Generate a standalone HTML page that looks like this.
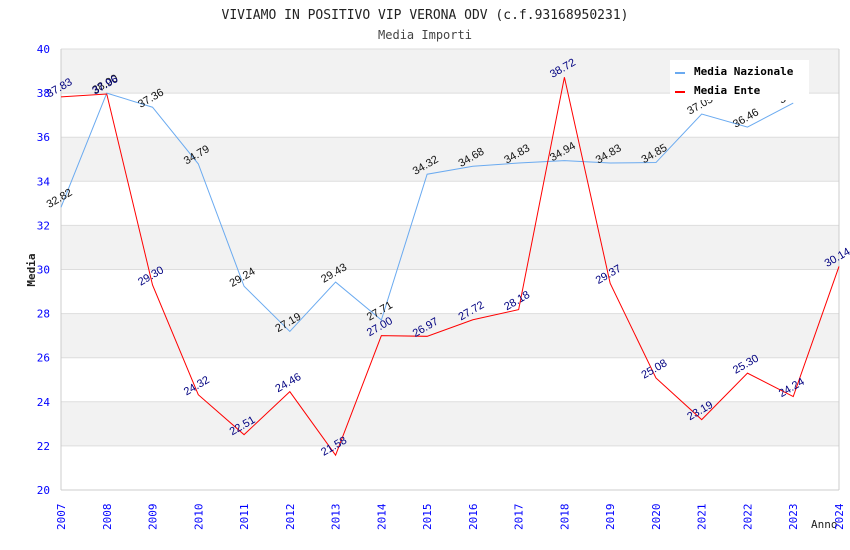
<!DOCTYPE html>
<html><head><meta charset="utf-8"><style>
body{margin:0;background:#fff;}
svg{display:block;font-family:"DejaVu Sans Mono","Liberation Mono",monospace;}
</style></head><body>
<svg id="c" width="850" height="550">
<text x="425" y="19" text-anchor="middle" font-size="13" fill="#222">VIVIAMO IN POSITIVO VIP VERONA ODV (c.f.93168950231)</text>
<text x="425" y="39" text-anchor="middle" font-size="12" fill="#444">Media Importi</text>
<text transform="translate(35,270) rotate(-90)" text-anchor="middle" font-size="11" font-weight="bold" fill="#222">Media</text>
<text x="811" y="528" font-size="11" fill="#222">Anno</text>
<g id="g"></g>
</svg>
<script>
const years=[2007,2008,2009,2010,2011,2012,2013,2014,2015,2016,2017,2018,2019,2020,2021,2022,2023,2024];
const naz=[32.82,38.00,37.36,34.79,29.24,27.19,29.43,27.71,34.32,34.68,34.83,34.94,34.83,34.85,37.05,36.46,37.55,null];
const ente=[37.83,37.96,29.30,24.32,22.51,24.46,21.58,27.00,26.97,27.72,28.18,38.72,29.37,25.08,23.19,25.30,24.24,30.14];
const yTicks=[20,22,24,26,28,30,32,34,36,38,40];
const NS="http://www.w3.org/2000/svg";
const g=document.getElementById('g');
const X0=61,X1=839,Y0=490,Y1=49;
const x=i=>X0+(X1-X0)*i/(years.length-1);
const y=v=>Y0-(v-20)/20*(Y0-Y1);
function mk(t,a){const e=document.createElementNS(NS,t);for(const k in a)e.setAttribute(k,a[k]);g.appendChild(e);return e;}
for(let i=0;i<yTicks.length-1;i++){
 const r=mk('rect',{x:X0,y:y(yTicks[i+1]),width:X1-X0,height:y(yTicks[i])-y(yTicks[i+1]),fill:(i%2==1)?'#f2f2f2':'#fff'});
 
 
}
yTicks.forEach(v=>{
 const l=mk('line',{x1:X0,x2:X1,y1:y(v),y2:y(v),stroke:'#ddd'});
 
 
 const t=mk('text',{x:X0-11,y:y(v)+4,'text-anchor':'end','font-size':11,fill:'#00f'});t.textContent=v;
 
 
});
mk('line',{x1:X0,x2:X0,y1:Y1,y2:Y0,stroke:'#ccc'});
mk('line',{x1:X1,x2:X1,y1:Y1,y2:Y0,stroke:'#ccc'});
mk('line',{x1:X0,x2:X1,y1:Y0,y2:Y0,stroke:'#ccc'});
years.forEach((yr,i)=>{
 const t=mk('text',{transform:`translate(${x(i)+4},${Y0+40}) rotate(-90)`,'font-size':11,fill:'#00f'});t.textContent=yr;
 
 
});
function series(arr,color,lblColor,name){
 let d='';arr.forEach((v,i)=>{if(v==null)return;d+=(d?'L':'M')+x(i)+','+y(v);});
 const p=mk('path',{d:d,fill:'none',stroke:color,'stroke-width':1});
 
 
 arr.forEach((v,i)=>{if(v==null)return;
  const t=mk('text',{transform:`translate(${x(i)},${y(v)-6}) rotate(-30)`,'text-anchor':'middle','font-size':11,'font-family':'"Liberation Sans",sans-serif',fill:lblColor});t.textContent=v.toFixed(2);
  
  
 });
}
series(naz,'#6aaaf0','#111','media-nazionale');
series(ente,'#f00','#000080','media-ente');
const lg=mk('rect',{x:670,y:60,width:139,height:40,fill:'#fff'});


mk('rect',{x:675,y:72,width:10,height:2,fill:'#6aaaf0'});
mk('rect',{x:675,y:91,width:10,height:2,fill:'#f00'});
const l1=mk('text',{x:694,y:75,'font-size':11,'font-weight':'bold',fill:'#000'});l1.textContent='Media Nazionale';


const l2=mk('text',{x:694,y:94,'font-size':11,'font-weight':'bold',fill:'#000'});l2.textContent='Media Ente';


</script>
</body></html>
